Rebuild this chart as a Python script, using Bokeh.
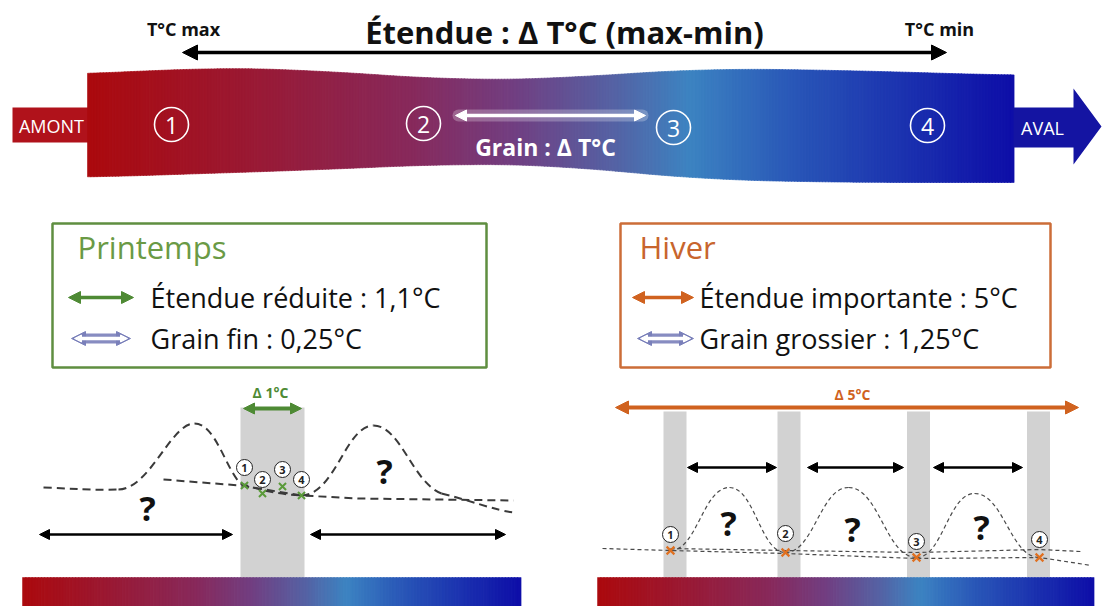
import numpy as np
from bokeh.plotting import figure
from bokeh.models import Range1d, Arrow, NormalHead
from bokeh.core.properties import value
from bokeh.embed import file_html
from bokeh.resources import INLINE

# ---------------- data ----------------
station_labels = ["1", "2", "3", "4"]
spring_range, spring_grain = "1,1", "0,25"
winter_range, winter_grain = "5", "1,25"
spring_delta, winter_delta = "1", "5"

# station positions on the river (top schema)
river_station_x = [171, 423, 673, 927]
river_station_y = [124, 123, 127, 125]

# river outline (wavy band)
river_edge_x = [87, 200, 300, 460, 560, 700, 850, 1013]
river_top_y = [74, 67, 69, 80, 78, 68, 70, 75]
river_bot_y = [177, 173, 170, 163, 165, 179, 182, 182]

# gradient (warm -> cold)
grad_pos = [0.0, 0.18, 0.35, 0.46, 0.57, 0.65, 0.76, 1.0]
grad_col = ["#AC0A0E", "#9A1A35", "#882A5C", "#723F82", "#5563A5", "#3D84C2", "#2A58B8", "#0E0EA8"]

# spring panel: measured stations (close together)
spring_x = [244, 262, 282, 301]
spring_y = [485, 493, 486, 495]
spring_lbl_y = [467, 479, 469, 479]
# winter panel: measured stations (spread out)
winter_x = [670, 785, 916, 1039]
winter_y = [550, 552, 557, 557]
winter_lbl_y = [534, 533, 541, 539]
winter_peak_x = [729, 848, 974]
winter_peak_y = [487, 487, 493]

# dashed profiles (spring panel)
spA_x0 = [43, 118, 194, 240, 301, 373, 441]
spA_y0 = [487, 489, 423, 483, 495, 425, 493]
spA_x1 = [118, 194, 240, 301, 373, 441, 513]
spA_y1 = [489, 423, 483, 495, 425, 493, 512]
spA_cx0 = [70, 150, 215, 260, 335, 400, 470]
spA_cy0 = [488, 488, 423, 490, 494, 425, 500]
spA_cx1 = [95, 170, 225, 280, 345, 412, 495]
spA_cy1 = [490, 423, 468, 494, 425, 482, 510]
spB_x = [163, 240, 301, 359, 513]
spB_y = [479, 485, 495, 498, 500]
# winter baselines
wiB1_x = [602, 670, 785, 916, 1039, 1091]
wiB1_y = [548, 550, 553, 558, 557, 565]
wiB2_x = [670, 785, 916, 1039, 1080]
wiB2_y = [548, 550, 552, 549, 551]

FONT = "Open Sans"


def hex2rgb(h):
    return np.array([int(h[i:i + 2], 16) for i in (1, 3, 5)], dtype=float)


GRAD_RGB = np.array([hex2rgb(c) for c in grad_col])


def grad(t):
    r = np.interp(t, grad_pos, GRAD_RGB[:, 0])
    g = np.interp(t, grad_pos, GRAD_RGB[:, 1])
    b = np.interp(t, grad_pos, GRAD_RGB[:, 2])
    return "#%02x%02x%02x" % (int(r), int(g), int(b))


p = figure(width=1105, height=606, x_range=Range1d(0, 1105), y_range=Range1d(606, 0),
           output_backend="svg", toolbar_location=None, min_border=0,
           x_axis_type=None, y_axis_type=None)
p.grid.visible = False
p.outline_line_color = None
p.background_fill_color = "white"
p.border_fill_color = "white"

# ---------------- top schema ----------------
p.text(x=[564], y=[31], text=["Étendue : Δ T°C (max-min)"], text_font=value(FONT),
       text_font_style="bold", text_font_size="31px", text_align="center",
       text_baseline="middle", text_color="#111111")
p.text(x=[183, 939], y=[28, 28], text=["T°C max", "T°C min"], text_font=value(FONT),
       text_font_style="bold", text_font_size="18px", text_align="center",
       text_baseline="middle", text_color="#111111")
p.add_layout(Arrow(x_start=182, y_start=52, x_end=946, y_end=52, line_width=3.5,
                   line_color="black",
                   start=NormalHead(size=15, fill_color="black", line_color="black"),
                   end=NormalHead(size=15, fill_color="black", line_color="black")))

# AMONT box
p.quad(left=[12], right=[89], top=[107], bottom=[142], fill_color="#B0121B", line_color=None)
p.text(x=[51], y=[125], text=["AMONT"], text_font=value(FONT), text_font_size="18px",
       text_align="center", text_baseline="middle", text_color="white")

# river band as gradient slices
n = 300
fx = np.linspace(river_edge_x[0], river_edge_x[-1], n + 1)
k = 25
def smooth(yv):
    yy = np.interp(fx, river_edge_x, yv)
    pad = np.pad(yy, k, mode="edge")
    return np.convolve(pad, np.ones(2 * k + 1) / (2 * k + 1), mode="same")[k:-k]
ft = smooth(river_top_y)
fb = smooth(river_bot_y)
xs, ys, cols = [], [], []
for i in range(n):
    xs.append([fx[i], fx[i + 1] + 0.6, fx[i + 1] + 0.6, fx[i]])
    ys.append([ft[i], ft[i + 1], fb[i + 1], fb[i]])
    cols.append(grad((i + 0.5) / n))
p.patches(xs=xs, ys=ys, fill_color=cols, line_color=cols, line_width=0.6)

# AVAL arrow
p.patch(x=[1013, 1073, 1073, 1101, 1073, 1073, 1013],
        y=[107, 107, 88, 126, 164, 147, 147], fill_color="#1414A2", line_color=None)
p.text(x=[1042], y=[127], text=["AVAL"], text_font=value(FONT), text_font_size="18px",
       text_align="center", text_baseline="middle", text_color="white")

# station circles
p.scatter(x=river_station_x, y=river_station_y, size=34, marker="circle",
          fill_alpha=0, line_color="white", line_width=1.6)
p.text(x=river_station_x, y=[v + 1 for v in river_station_y], text=station_labels,
       text_font=value(FONT), text_font_size="23px", text_align="center",
       text_baseline="middle", text_color="white")

# grain arrow (white, glowing)
p.line(x=[458, 642], y=[115, 115], line_width=12, line_color="white", line_alpha=0.25,
       line_cap="round")
p.add_layout(Arrow(x_start=455, y_start=115, x_end=645, y_end=115, line_width=3.5,
                   line_color="white",
                   start=NormalHead(size=11, fill_color="white", line_color="white"),
                   end=NormalHead(size=11, fill_color="white", line_color="white")))
p.text(x=[545], y=[146], text=["Grain : Δ T°C"], text_font=value(FONT),
       text_font_style="bold", text_font_size="23px", text_align="center",
       text_baseline="middle", text_color="white")

# ---------------- legend boxes ----------------
GREEN_T, GREEN_B, GREEN_A = "#6A9A45", "#5F8E40", "#4E8A34"
ORANGE_T, ORANGE_B, ORANGE_A = "#C8652D", "#CC6D38", "#D0621F"
p.quad(left=[52], right=[486], top=[223], bottom=[367], fill_alpha=0,
       line_color=GREEN_B, line_width=2.5)
p.quad(left=[620], right=[1050], top=[223], bottom=[367], fill_alpha=0,
       line_color=ORANGE_B, line_width=2.5)
p.text(x=[77], y=[246], text=["Printemps"], text_font=value(FONT), text_font_size="31px",
       text_baseline="middle", text_color=GREEN_T)
p.text(x=[639], y=[246], text=["Hiver"], text_font=value(FONT), text_font_size="31px",
       text_baseline="middle", text_color=ORANGE_T)


def legend_range_arrow(x0, x1, y, color):
    p.add_layout(Arrow(x_start=x0, y_start=y, x_end=x1, y_end=y, line_width=3.5,
                       line_color=color,
                       start=NormalHead(size=12, fill_color=color, line_color=color),
                       end=NormalHead(size=12, fill_color=color, line_color=color)))


def legend_grain_arrow(x0, x1, y):
    oc = "#7A80BA"
    p.add_layout(Arrow(x_start=x0, y_start=y, x_end=x1, y_end=y, line_width=10,
                       line_color=oc, line_alpha=0.9,
                       start=NormalHead(size=14, fill_color=oc, line_color=oc),
                       end=NormalHead(size=14, fill_color=oc, line_color=oc)))
    p.add_layout(Arrow(x_start=x0 + 3, y_start=y, x_end=x1 - 3, y_end=y, line_width=3.5,
                       line_color="white",
                       start=NormalHead(size=7, fill_color="white", line_color="white"),
                       end=NormalHead(size=7, fill_color="white", line_color="white")))


legend_range_arrow(68, 133, 297, GREEN_A)
legend_grain_arrow(71, 130, 338)
legend_range_arrow(632, 693, 297, ORANGE_A)
legend_grain_arrow(637, 693, 338)

p.text(x=[150, 150], y=[297, 338],
       text=["Étendue réduite : %s°C" % spring_range, "Grain fin : %s°C" % spring_grain],
       text_font=value(FONT), text_font_size="27px", text_baseline="middle",
       text_color="#111111")
p.text(x=[699, 699], y=[297, 338],
       text=["Étendue importante : %s°C" % winter_range, "Grain grossier : %s°C" % winter_grain],
       text_font=value(FONT), text_font_size="27px", text_baseline="middle",
       text_color="#111111")

# ---------------- bottom panels ----------------
GREY = "#D2D2D2"
# spring
p.quad(left=[240], right=[304], top=[407], bottom=[577], fill_color=GREY, line_color=None)
# winter
wband_c = [674.5, 788.5, 918, 1038]
p.quad(left=[c - 11.5 for c in wband_c], right=[c + 11.5 for c in wband_c],
       top=[411] * 4, bottom=[577] * 4, fill_color=GREY, line_color=None)

# gradient bars
for (bx0, bx1) in [(22, 520), (597, 1093)]:
    m = 160
    e = np.linspace(bx0, bx1, m + 1)
    c = [grad((i + 0.5) / m) for i in range(m)]
    p.quad(left=e[:-1], right=e[1:] + 0.6, top=[577] * m, bottom=[606] * m,
           fill_color=c, line_color=c, line_width=0.5)

# spring dashed profiles
DASH_COL = "#3A3A3A"
p.bezier(x0=spA_x0, y0=spA_y0, x1=spA_x1, y1=spA_y1, cx0=spA_cx0, cy0=spA_cy0,
         cx1=spA_cx1, cy1=spA_cy1, line_color=DASH_COL, line_width=2, line_dash="8 5")
p.line(x=spB_x, y=spB_y, line_color=DASH_COL, line_width=2, line_dash="8 5")

# winter dashed profiles (bumps between stations)
wx0, wy0, wx1, wy1, wcx0, wcy0, wcx1, wcy1 = [], [], [], [], [], [], [], []
for i in range(3):
    a = (winter_x[i], winter_y[i])
    pk = (winter_peak_x[i], winter_peak_y[i])
    b = (winter_x[i + 1], winter_y[i + 1])
    for s, t in [(a, pk), (pk, b)]:
        dx = t[0] - s[0]
        wx0.append(s[0]); wy0.append(s[1]); wx1.append(t[0]); wy1.append(t[1])
        wcx0.append(s[0] + 0.45 * dx); wcy0.append(s[1])
        wcx1.append(t[0] - 0.45 * dx); wcy1.append(t[1])
p.bezier(x0=wx0, y0=wy0, x1=wx1, y1=wy1, cx0=wcx0, cy0=wcy0, cx1=wcx1, cy1=wcy1,
         line_color="#4A4A4A", line_width=1.2, line_dash="4 3")
p.line(x=wiB1_x, y=wiB1_y, line_color="#4A4A4A", line_width=1.2, line_dash="4 3")
p.line(x=wiB2_x, y=wiB2_y, line_color="#4A4A4A", line_width=1.2, line_dash="4 3")

# range arrows in panels
p.add_layout(Arrow(x_start=243, y_start=408, x_end=301, y_end=408, line_width=4,
                   line_color=GREEN_A,
                   start=NormalHead(size=11, fill_color=GREEN_A, line_color=GREEN_A),
                   end=NormalHead(size=11, fill_color=GREEN_A, line_color=GREEN_A)))
p.text(x=[270], y=[392], text=["Δ %s°C" % spring_delta], text_font=value(FONT),
       text_font_style="bold", text_font_size="14px", text_align="center",
       text_baseline="middle", text_color=GREEN_A)
p.add_layout(Arrow(x_start=615, y_start=407, x_end=1078, y_end=407, line_width=4,
                   line_color=ORANGE_A,
                   start=NormalHead(size=13, fill_color=ORANGE_A, line_color=ORANGE_A),
                   end=NormalHead(size=13, fill_color=ORANGE_A, line_color=ORANGE_A)))
p.text(x=[852], y=[394], text=["Δ %s°C" % winter_delta], text_font=value(FONT),
       text_font_style="bold", text_font_size="14px", text_align="center",
       text_baseline="middle", text_color=ORANGE_A)

# unknown-gap black arrows
gaps = [(39, 232, 534), (310, 505, 534), (687, 776, 467), (807, 903, 467), (933, 1022, 467)]
for g0, g1, gy in gaps:
    p.add_layout(Arrow(x_start=g0, y_start=gy, x_end=g1, y_end=gy, line_width=2.5,
                       line_color="black",
                       start=NormalHead(size=10, fill_color="black", line_color="black"),
                       end=NormalHead(size=10, fill_color="black", line_color="black")))

# question marks
p.text(x=[147, 384, 728, 852, 981], y=[507, 470, 522, 528, 526], text=["?"] * 5,
       text_font=value(FONT), text_font_style="bold", text_font_size="34px",
       text_align="center", text_baseline="middle", text_color="#111111")

# crosses
p.scatter(x=spring_x, y=spring_y, marker="x", size=10, line_color="#5A9A3A", line_width=2)
p.scatter(x=winter_x, y=winter_y, marker="x", size=11, line_color="#E07020", line_width=2.2)

# circled station labels
for xv, yv in [(spring_x, spring_lbl_y), (winter_x, winter_lbl_y)]:
    p.scatter(x=xv, y=yv, marker="circle", size=16, fill_color="white",
              line_color="#222222", line_width=1)
    p.text(x=xv, y=[v + 0.5 for v in yv], text=station_labels, text_font=value(FONT),
           text_font_style="bold", text_font_size="11px", text_align="center",
           text_baseline="middle", text_color="#222222")

open("out.html", "w").write(file_html(p, INLINE))
